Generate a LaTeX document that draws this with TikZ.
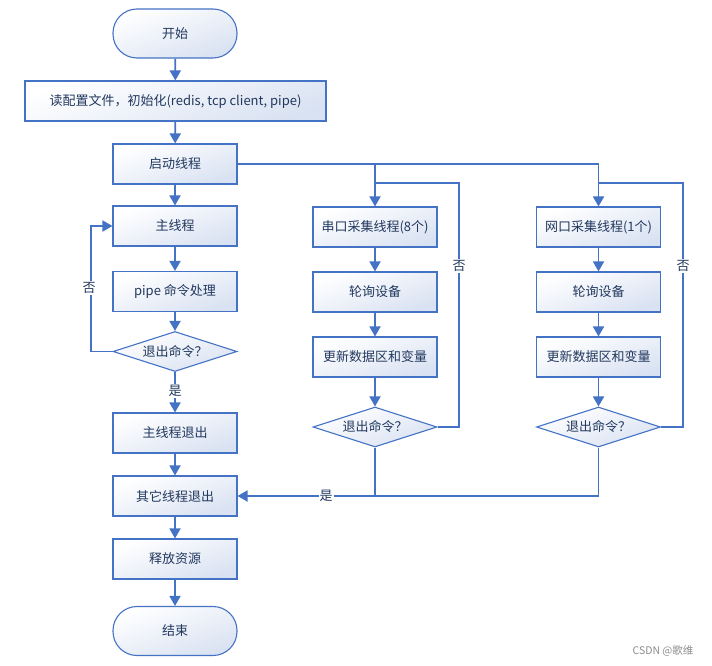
\documentclass[tikz,border=0pt]{standalone}
\usepackage{fontspec}
\setmainfont{Noto Sans CJK SC}
\usetikzlibrary{arrows.meta,shapes.geometric,calc}
\definecolor{lineblue}{HTML}{4472C4}
\definecolor{fillblue}{HTML}{D9E2F2}
\definecolor{txtblue}{HTML}{22385E}
\tikzset{
  basebox/.style={draw=lineblue, line width=1.1pt, top color=white, bottom color=fillblue,
    shading angle=20, inner sep=0pt, text=txtblue, font=\fontsize{13}{15}\selectfont},
  procbox/.style={basebox, rectangle, minimum width=124pt, minimum height=40pt},
  termbox/.style={basebox, rectangle, rounded corners=24pt, minimum width=124pt, minimum height=49pt},
  decbox/.style={basebox, diamond, aspect=3.1, minimum width=124pt, minimum height=40pt},
  conn/.style={draw=lineblue, line width=1.8pt},
  arr/.style={conn, -{Triangle[length=10pt,width=11pt]}},
  lbl/.style={fill=white, inner sep=1pt, text=txtblue, font=\fontsize{13}{15}\selectfont}
}
\begin{document}
\begin{tikzpicture}[x=1pt,y=-1pt]
\useasboundingbox (0,0) rectangle (712,666);
% left column
\node[termbox] (start) at (175,33.5) {开始};
\node[procbox, minimum width=301pt] (init) at (175.5,101) {读配置文件，初始化(redis, tcp client, pipe)};
\node[procbox] (launch) at (175,164) {启动线程};
\node[procbox] (main) at (175,226) {主线程};
\node[procbox] (pipe) at (175,291.5) {pipe 命令处理};
\node[decbox] (dec1) at (175,351.5) {退出命令？};
\node[procbox] (mexit) at (175,433) {主线程退出};
\node[procbox] (others) at (175,496) {其它线程退出};
\node[procbox] (rel) at (175,559) {释放资源};
\node[termbox] (end) at (175,631) {结束};
% middle column
\node[procbox] (ser) at (375,227) {串口采集线程(8个)};
\node[procbox] (poll1) at (375,292) {轮询设备};
\node[procbox] (upd1) at (375,357) {更新数据区和变量};
\node[decbox] (dec2) at (375,427) {退出命令？};
% right column
\node[procbox] (net) at (598.5,227) {网口采集线程(1个)};
\node[procbox] (poll2) at (598.5,292) {轮询设备};
\node[procbox] (upd2) at (598.5,357) {更新数据区和变量};
\node[decbox] (dec3) at (598.5,427) {退出命令？};
% junctions
\coordinate (j1) at (375,164);
\coordinate (j2) at (598.5,164);
\coordinate (l1) at (91,351.5);
\coordinate (l2) at (459,183);
\coordinate (l2b) at (375,183);
\coordinate (l3) at (683,183);
\coordinate (l3b) at (598.5,183);
% main flow
\draw[arr] (start) -- (init);
\draw[arr] (init) -- (launch);
\draw[arr] (launch) -- (main);
\draw[arr] (main) -- (pipe);
\draw[arr] (pipe) -- (dec1);
\draw[arr] (dec1) -- (mexit);
\node[lbl] at (175,391) {是};
\draw[arr] (mexit) -- (others);
\draw[arr] (others) -- (rel);
\draw[arr] (rel) -- (end);
\draw[arr] (dec1.west) -- (l1) |- (main.west);
\node[lbl] at (89,288) {否};
% threads
\draw[conn] (launch.east) -- (j2);
\draw[arr] (j1) -- (ser);
\draw[arr] (j2) -- (net);
\draw[arr] (ser) -- (poll1);
\draw[arr] (poll1) -- (upd1);
\draw[arr] (upd1) -- (dec2);
\draw[arr] (net) -- (poll2);
\draw[arr] (poll2) -- (upd2);
\draw[arr] (upd2) -- (dec3);
\draw[conn] (dec2.east) -| (l2) -- (l2b);
\node[lbl] at (459,266) {否};
\draw[conn] (dec3.east) -| (l3) -- (l3b);
\node[lbl] at (683,266) {否};
\draw[conn] (dec2.south) -- (dec2.south |- others.east);
\draw[arr] (dec3.south) |- (others.east);
\node[lbl] at (326,496) {是};
% watermark
\node[text=black!45, font=\fontsize{10.5}{12}\selectfont, inner sep=0pt] at (663,651) {CSDN @歌维};
\end{tikzpicture}
\end{document}
